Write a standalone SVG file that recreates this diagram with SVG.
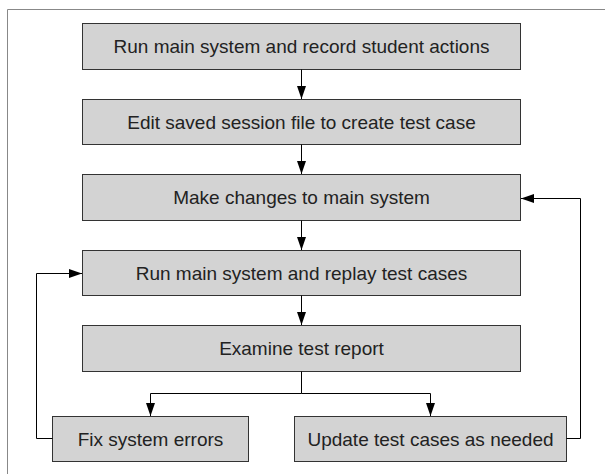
<svg xmlns="http://www.w3.org/2000/svg" width="605" height="474" viewBox="0 0 605 474">
<defs>
<style>
.box{fill:#d3d3d3;stroke:#333;stroke-width:1}
.lbl{font-family:"Liberation Sans",Arial,sans-serif;font-size:19px;fill:#222;text-anchor:middle}
.con{fill:none;stroke:#000;stroke-width:1}
.frame{fill:none;stroke:#888;stroke-width:1}
</style>
<marker id="ah" viewBox="0 0 13 9" refX="13" refY="4.5" markerWidth="13" markerHeight="9" markerUnits="userSpaceOnUse" orient="auto">
<path d="M0,0 L13,4.5 L0,9 Z" fill="#000"/>
</marker>
</defs>
<rect width="605" height="474" fill="#fff"/>
<path class="frame" d="M7.5,474 V9.5 H605"/>
<g id="n1"><rect class="box" x="82.5" y="23.5" width="438" height="46"/><text class="lbl" x="301.5" y="53.3">Run main system and record student actions</text></g>
<g id="n2"><rect class="box" x="82.5" y="99.5" width="438" height="45"/><text class="lbl" x="301.5" y="128.8">Edit saved session file to create test case</text></g>
<g id="n3"><rect class="box" x="82.5" y="174.5" width="438" height="46"/><text class="lbl" x="301.5" y="204.2">Make changes to main system</text></g>
<g id="n4"><rect class="box" x="82.5" y="250.5" width="438" height="45"/><text class="lbl" x="301.5" y="279.8">Run main system and replay test cases</text></g>
<g id="n5"><rect class="box" x="82.5" y="325.5" width="438" height="46"/><text class="lbl" x="301.5" y="355.2">Examine test report</text></g>
<g id="n6"><rect class="box" x="52.5" y="416.5" width="196" height="45"/><text class="lbl" x="150.5" y="445.5">Fix system errors</text></g>
<g id="n7"><rect class="box" x="294.5" y="416.5" width="272" height="45"/><text class="lbl" x="430.5" y="445.5">Update test cases as needed</text></g>
<g id="connectors">
<path class="con" d="M301.5,69.5 V99" marker-end="url(#ah)"/>
<path class="con" d="M301.5,144.5 V174" marker-end="url(#ah)"/>
<path class="con" d="M301.5,220.5 V250" marker-end="url(#ah)"/>
<path class="con" d="M301.5,295.5 V325" marker-end="url(#ah)"/>
<path class="con" d="M301.5,371.5 V393.5 H150.5 V416" marker-end="url(#ah)"/>
<path class="con" d="M301.5,393.5 H430.5 V416" marker-end="url(#ah)"/>
<path class="con" d="M52.5,438.5 H36.5 V273.5 H82" marker-end="url(#ah)"/>
<path class="con" d="M566.5,438.5 H580.5 V198.5 H521" marker-end="url(#ah)"/>
</g>
</svg>
